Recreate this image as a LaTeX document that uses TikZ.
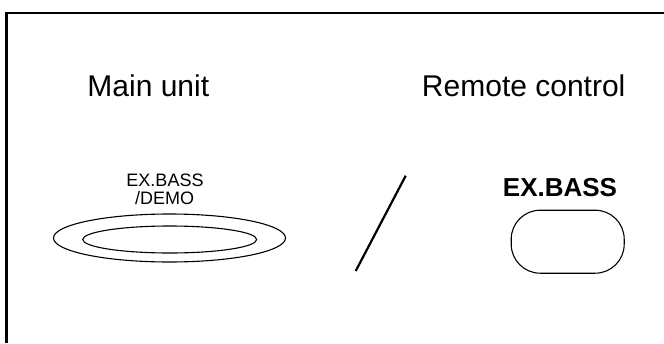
\documentclass[tikz,border=0pt]{standalone}
\usepackage{fontspec}
\setmainfont{Liberation Sans}
\usetikzlibrary{shapes.geometric}
\tikzset{
  frameline/.style={line width=2.7pt, line cap=butt},
  heading/.style={font=\fontsize{30}{36}\selectfont, inner sep=0pt, anchor=base},
  smalllabel/.style={font=\fontsize{18}{20}\selectfont, inner sep=0pt, anchor=base},
  boldlabel/.style={font=\fontsize{26}{30}\selectfont\bfseries, inner sep=0pt, anchor=base},
  outline/.style={draw, line width=1.1pt},
}
\begin{document}
\begin{tikzpicture}[x=1pt,y=-1pt]
\useasboundingbox (0,0) rectangle (664,343);
% frame
\coordinate (fbl) at (6.7,343);
\coordinate (ftl) at (6.7,13);
\coordinate (ftr) at (664,13);
\draw[frameline] (fbl) -- (ftl) -- (ftr);
% headings
\node[heading] (main) at (148.3,96.7) {Main unit};
\node[heading] (remote) at (523.7,96.7) {Remote control};
% main unit button
\node[smalllabel] (lblA) at (165,186.7) {EX.BASS};
\node[smalllabel] (lblB) at (164.7,204) {/DEMO};
\node[outline, ellipse, inner sep=0pt, minimum width=232pt, minimum height=48pt] (outer) at (169.5,238) {};
\node[outline, ellipse, inner sep=0pt, minimum width=174pt, minimum height=27pt] (inner) at (169.7,239.5) {};
% slash
\coordinate (sa) at (405.7,175.7);
\coordinate (sb) at (355.7,271);
\draw[line width=2.2pt] (sa) -- (sb);
% remote button
\node[boldlabel] (rlbl) at (560,196.7) {EX.BASS};
\node[outline, rectangle, rounded corners=29pt, inner sep=0pt, minimum width=113pt, minimum height=63pt] (rbtn) at (567.7,241.7) {};
\end{tikzpicture}
\end{document}
